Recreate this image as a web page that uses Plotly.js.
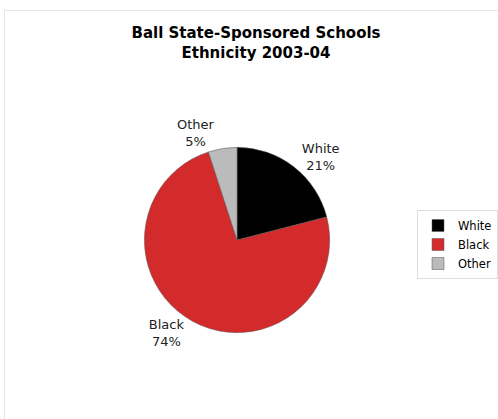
<!DOCTYPE html>
<html><head><meta charset="utf-8">
<script src="https://cdn.plot.ly/plotly-3.0.1.min.js"></script>
<style>
html,body{margin:0;padding:0;background:#fff;}
#frame{position:absolute;left:4px;top:10px;width:600px;height:600px;border-left:1px solid #e6e6e6;border-top:1px solid #e6e6e6;}
#chart{position:absolute;left:0;top:0;width:498px;height:419px;}
</style></head>
<body>
<div id="frame"></div>
<div id="chart"></div>
<script>
const categories = ["White", "Black", "Other"];
const values = [21, 74, 5];
const colors = ["#000000", "#D32B2B", "#BBBBBB"];

const W = 498, H = 419;
const cx = 238, cy = 240, r = 93;

Plotly.newPlot('chart', [{
  type: 'pie',
  labels: categories,
  values: values,
  sort: false,
  direction: 'clockwise',
  rotation: 0,
  marker: {colors: colors, line: {color: '#555555', width: 0.5}},
  textposition: 'outside',
  texttemplate: '%{label}<br>%{percent:.0%}',
  textfont: {family: 'DejaVu Sans', size: 13, color: '#222'},
  outsidetextfont: {family: 'DejaVu Sans', size: 13, color: '#222'},
  domain: {x: [(cx - r) / W, (cx + r) / W], y: [(H - cy - r) / H, (H - cy + r) / H]},
  hoverinfo: 'none'
}], {
  width: W, height: H,
  margin: {l: 0, r: 0, t: 0, b: 0},
  paper_bgcolor: 'rgba(0,0,0,0)',
  plot_bgcolor: 'rgba(0,0,0,0)',
  title: {text: '<b>Ball State-Sponsored Schools<br>Ethnicity 2003-04</b>', x: 256 / W, xanchor: 'center', y: 1 - 38 / H, yanchor: 'middle',
    font: {family: 'DejaVu Sans', size: 15, color: '#000'}},
  showlegend: true,
  legend: {x: 419 / W, xanchor: 'left', y: 1 - 210 / H, yanchor: 'top', bordercolor: '#dddddd', borderwidth: 1,
    font: {family: 'DejaVu Sans', size: 11.5, color: '#000'}, itemwidth: 30, tracegroupgap: 0}
}, {staticPlot: true});
</script>
</body></html>
